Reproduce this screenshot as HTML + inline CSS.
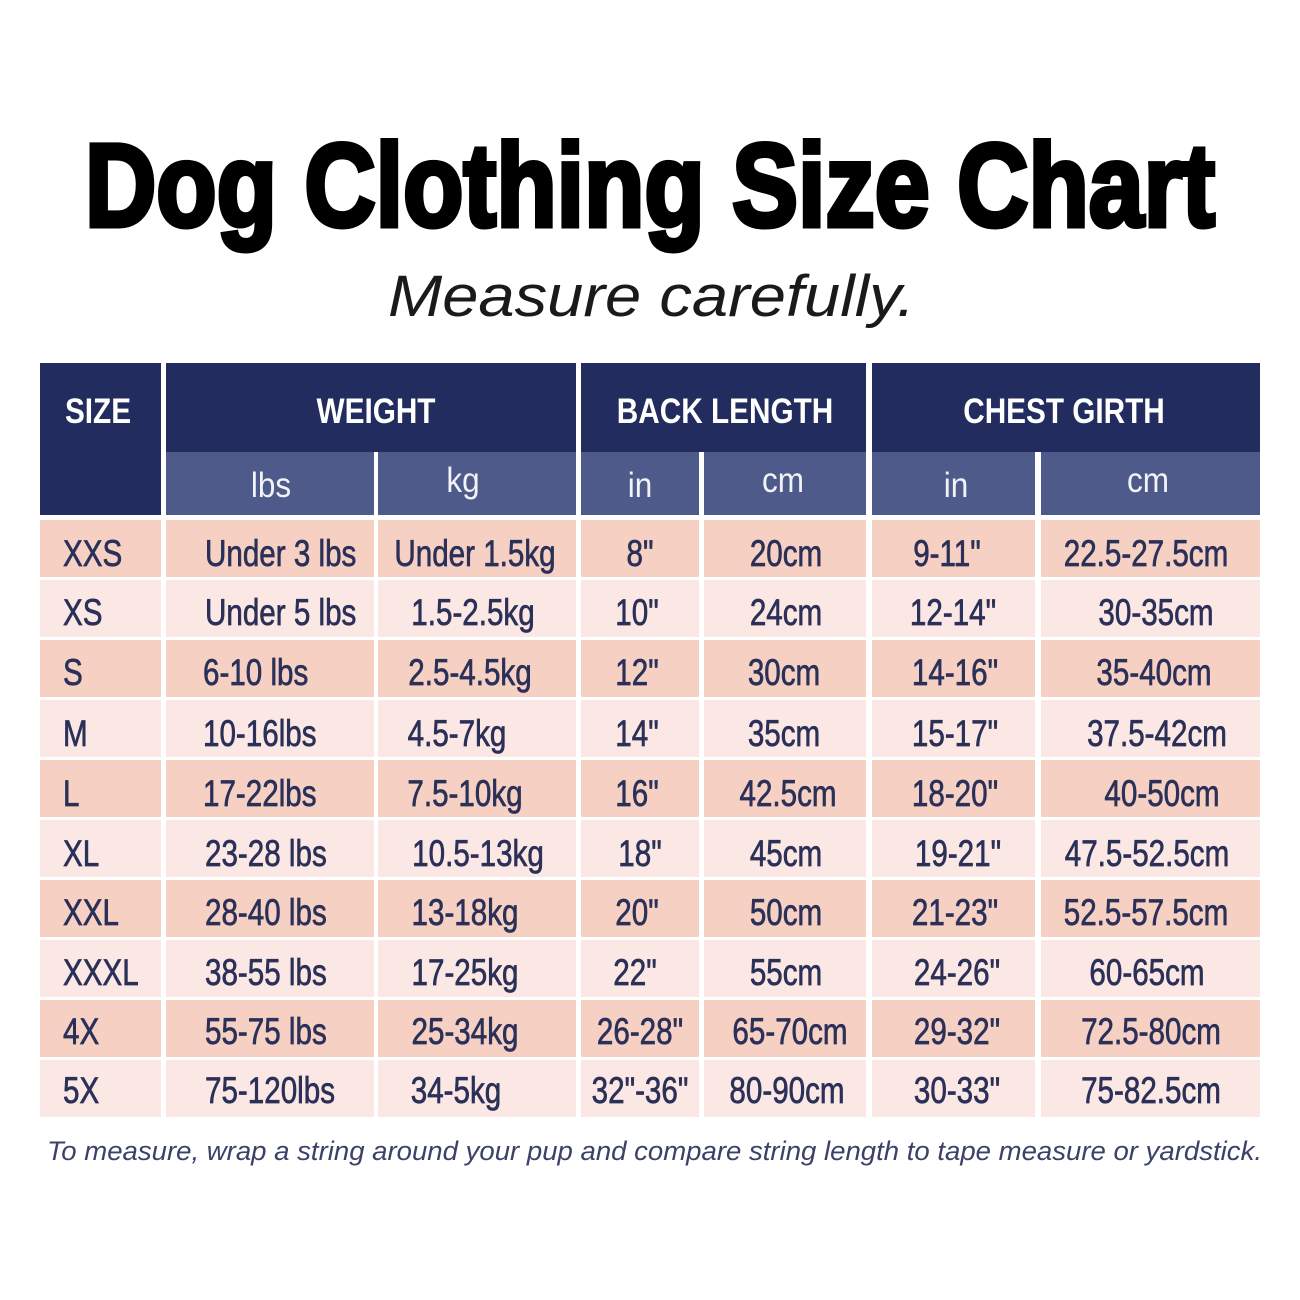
<!DOCTYPE html>
<html><head><meta charset="utf-8"><style>
html,body{margin:0;padding:0;background:#fff;width:1300px;height:1300px;overflow:hidden}
svg{display:block}
.t{font-family:"Liberation Sans",Arial,sans-serif;font-size:37px;fill:#2b3058;stroke:#2b3058;stroke-width:0.7}
.h{font-family:"Liberation Sans",Arial,sans-serif;font-weight:bold;font-size:35px;fill:#fff}
.s{font-family:"Liberation Sans",Arial,sans-serif;font-size:35px;fill:#f2f3f8}
</style></head><body>
<svg width="1300" height="1300" viewBox="0 0 1300 1300" xmlns="http://www.w3.org/2000/svg">
<text x="650" y="226" text-anchor="middle" textLength="1130" lengthAdjust="spacingAndGlyphs" font-family="Liberation Sans, Arial, sans-serif" font-weight="bold" font-size="118" fill="#000" stroke="#000" stroke-width="5">Dog Clothing Size Chart</text>
<text x="388" y="316" textLength="527" lengthAdjust="spacingAndGlyphs" font-family="Liberation Sans, Arial, sans-serif" font-style="italic" font-size="58" fill="#1a1a1a">Measure carefully.</text>

<rect x="40" y="363" width="121" height="152" fill="#232c5e"/>
<rect x="166" y="363" width="410" height="89" fill="#232c5e"/>
<rect x="581" y="363" width="285" height="89" fill="#232c5e"/>
<rect x="872" y="363" width="388" height="89" fill="#232c5e"/>
<rect x="166" y="452" width="208" height="63" fill="#4e5a8a"/>
<rect x="378" y="452" width="198" height="63" fill="#4e5a8a"/>
<rect x="581" y="452" width="118" height="63" fill="#4e5a8a"/>
<rect x="704" y="452" width="162" height="63" fill="#4e5a8a"/>
<rect x="872" y="452" width="163" height="63" fill="#4e5a8a"/>
<rect x="1041" y="452" width="219" height="63" fill="#4e5a8a"/>
<text class="h" transform="translate(98,423) scale(.85,1)" text-anchor="middle">SIZE</text>
<text class="h" transform="translate(376,423) scale(.85,1)" text-anchor="middle">WEIGHT</text>
<text class="h" transform="translate(725,423) scale(.85,1)" text-anchor="middle">BACK LENGTH</text>
<text class="h" transform="translate(1064,423) scale(.85,1)" text-anchor="middle">CHEST GIRTH</text>
<text class="s" transform="translate(271,497) scale(.9,1)" text-anchor="middle">lbs</text>
<text class="s" transform="translate(463,492) scale(.9,1)" text-anchor="middle">kg</text>
<text class="s" transform="translate(640,497) scale(.9,1)" text-anchor="middle">in</text>
<text class="s" transform="translate(783,492) scale(.9,1)" text-anchor="middle">cm</text>
<text class="s" transform="translate(956,497) scale(.9,1)" text-anchor="middle">in</text>
<text class="s" transform="translate(1148,492) scale(.9,1)" text-anchor="middle">cm</text>

<g fill="#f5d0c3">
<rect x="40" y="520" width="121" height="57"/><rect x="166" y="520" width="208" height="57"/><rect x="378" y="520" width="198" height="57"/><rect x="581" y="520" width="118" height="57"/><rect x="704" y="520" width="162" height="57"/><rect x="872" y="520" width="163" height="57"/><rect x="1041" y="520" width="219" height="57"/>
<rect x="40" y="640" width="121" height="57"/><rect x="166" y="640" width="208" height="57"/><rect x="378" y="640" width="198" height="57"/><rect x="581" y="640" width="118" height="57"/><rect x="704" y="640" width="162" height="57"/><rect x="872" y="640" width="163" height="57"/><rect x="1041" y="640" width="219" height="57"/>
<rect x="40" y="760" width="121" height="57"/><rect x="166" y="760" width="208" height="57"/><rect x="378" y="760" width="198" height="57"/><rect x="581" y="760" width="118" height="57"/><rect x="704" y="760" width="162" height="57"/><rect x="872" y="760" width="163" height="57"/><rect x="1041" y="760" width="219" height="57"/>
<rect x="40" y="880" width="121" height="57"/><rect x="166" y="880" width="208" height="57"/><rect x="378" y="880" width="198" height="57"/><rect x="581" y="880" width="118" height="57"/><rect x="704" y="880" width="162" height="57"/><rect x="872" y="880" width="163" height="57"/><rect x="1041" y="880" width="219" height="57"/>
<rect x="40" y="1000" width="121" height="57"/><rect x="166" y="1000" width="208" height="57"/><rect x="378" y="1000" width="198" height="57"/><rect x="581" y="1000" width="118" height="57"/><rect x="704" y="1000" width="162" height="57"/><rect x="872" y="1000" width="163" height="57"/><rect x="1041" y="1000" width="219" height="57"/>
</g>
<g fill="#fbe7e3">
<rect x="40" y="580" width="121" height="57"/><rect x="166" y="580" width="208" height="57"/><rect x="378" y="580" width="198" height="57"/><rect x="581" y="580" width="118" height="57"/><rect x="704" y="580" width="162" height="57"/><rect x="872" y="580" width="163" height="57"/><rect x="1041" y="580" width="219" height="57"/>
<rect x="40" y="700" width="121" height="57"/><rect x="166" y="700" width="208" height="57"/><rect x="378" y="700" width="198" height="57"/><rect x="581" y="700" width="118" height="57"/><rect x="704" y="700" width="162" height="57"/><rect x="872" y="700" width="163" height="57"/><rect x="1041" y="700" width="219" height="57"/>
<rect x="40" y="820" width="121" height="57"/><rect x="166" y="820" width="208" height="57"/><rect x="378" y="820" width="198" height="57"/><rect x="581" y="820" width="118" height="57"/><rect x="704" y="820" width="162" height="57"/><rect x="872" y="820" width="163" height="57"/><rect x="1041" y="820" width="219" height="57"/>
<rect x="40" y="940" width="121" height="57"/><rect x="166" y="940" width="208" height="57"/><rect x="378" y="940" width="198" height="57"/><rect x="581" y="940" width="118" height="57"/><rect x="704" y="940" width="162" height="57"/><rect x="872" y="940" width="163" height="57"/><rect x="1041" y="940" width="219" height="57"/>
<rect x="40" y="1060" width="121" height="57"/><rect x="166" y="1060" width="208" height="57"/><rect x="378" y="1060" width="198" height="57"/><rect x="581" y="1060" width="118" height="57"/><rect x="704" y="1060" width="162" height="57"/><rect x="872" y="1060" width="163" height="57"/><rect x="1041" y="1060" width="219" height="57"/>
</g>

<g class="t">
<text transform="translate(63,566) scale(.8,1)">XXS</text>
<text transform="translate(205,566) scale(.8,1)">Under 3 lbs</text>
<text transform="translate(475,566) scale(.8,1)" text-anchor="middle">Under 1.5kg</text>
<text transform="translate(640,566) scale(.8,1)" text-anchor="middle">8"</text>
<text transform="translate(786,566) scale(.8,1)" text-anchor="middle">20cm</text>
<text transform="translate(947,566) scale(.8,1)" text-anchor="middle">9-11"</text>
<text transform="translate(1146,566) scale(.8,1)" text-anchor="middle">22.5-27.5cm</text>
<text transform="translate(63,625) scale(.8,1)">XS</text>
<text transform="translate(205,625) scale(.8,1)">Under 5 lbs</text>
<text transform="translate(473,625) scale(.8,1)" text-anchor="middle">1.5-2.5kg</text>
<text transform="translate(637,625) scale(.8,1)" text-anchor="middle">10"</text>
<text transform="translate(786,625) scale(.8,1)" text-anchor="middle">24cm</text>
<text transform="translate(953,625) scale(.8,1)" text-anchor="middle">12-14"</text>
<text transform="translate(1156,625) scale(.8,1)" text-anchor="middle">30-35cm</text>
<text transform="translate(63,685) scale(.8,1)">S</text>
<text transform="translate(203,685) scale(.8,1)">6-10 lbs</text>
<text transform="translate(470,685) scale(.8,1)" text-anchor="middle">2.5-4.5kg</text>
<text transform="translate(637,685) scale(.8,1)" text-anchor="middle">12"</text>
<text transform="translate(784,685) scale(.8,1)" text-anchor="middle">30cm</text>
<text transform="translate(955,685) scale(.8,1)" text-anchor="middle">14-16"</text>
<text transform="translate(1154,685) scale(.8,1)" text-anchor="middle">35-40cm</text>
<text transform="translate(63,746) scale(.8,1)">M</text>
<text transform="translate(203,746) scale(.8,1)">10-16lbs</text>
<text transform="translate(457,746) scale(.8,1)" text-anchor="middle">4.5-7kg</text>
<text transform="translate(637,746) scale(.8,1)" text-anchor="middle">14"</text>
<text transform="translate(784,746) scale(.8,1)" text-anchor="middle">35cm</text>
<text transform="translate(955,746) scale(.8,1)" text-anchor="middle">15-17"</text>
<text transform="translate(1157,746) scale(.8,1)" text-anchor="middle">37.5-42cm</text>
<text transform="translate(63,806) scale(.8,1)">L</text>
<text transform="translate(203,806) scale(.8,1)">17-22lbs</text>
<text transform="translate(465,806) scale(.8,1)" text-anchor="middle">7.5-10kg</text>
<text transform="translate(637,806) scale(.8,1)" text-anchor="middle">16"</text>
<text transform="translate(788,806) scale(.8,1)" text-anchor="middle">42.5cm</text>
<text transform="translate(955,806) scale(.8,1)" text-anchor="middle">18-20"</text>
<text transform="translate(1162,806) scale(.8,1)" text-anchor="middle">40-50cm</text>
<text transform="translate(63,866) scale(.8,1)">XL</text>
<text transform="translate(205,866) scale(.8,1)">23-28 lbs</text>
<text transform="translate(478,866) scale(.8,1)" text-anchor="middle">10.5-13kg</text>
<text transform="translate(640,866) scale(.8,1)" text-anchor="middle">18"</text>
<text transform="translate(786,866) scale(.8,1)" text-anchor="middle">45cm</text>
<text transform="translate(958,866) scale(.8,1)" text-anchor="middle">19-21"</text>
<text transform="translate(1147,866) scale(.8,1)" text-anchor="middle">47.5-52.5cm</text>
<text transform="translate(63,925) scale(.8,1)">XXL</text>
<text transform="translate(205,925) scale(.8,1)">28-40 lbs</text>
<text transform="translate(465,925) scale(.8,1)" text-anchor="middle">13-18kg</text>
<text transform="translate(637,925) scale(.8,1)" text-anchor="middle">20"</text>
<text transform="translate(786,925) scale(.8,1)" text-anchor="middle">50cm</text>
<text transform="translate(955,925) scale(.8,1)" text-anchor="middle">21-23"</text>
<text transform="translate(1146,925) scale(.8,1)" text-anchor="middle">52.5-57.5cm</text>
<text transform="translate(63,985) scale(.8,1)">XXXL</text>
<text transform="translate(205,985) scale(.8,1)">38-55 lbs</text>
<text transform="translate(465,985) scale(.8,1)" text-anchor="middle">17-25kg</text>
<text transform="translate(635,985) scale(.8,1)" text-anchor="middle">22"</text>
<text transform="translate(786,985) scale(.8,1)" text-anchor="middle">55cm</text>
<text transform="translate(957,985) scale(.8,1)" text-anchor="middle">24-26"</text>
<text transform="translate(1147,985) scale(.8,1)" text-anchor="middle">60-65cm</text>
<text transform="translate(63,1044) scale(.8,1)">4X</text>
<text transform="translate(205,1044) scale(.8,1)">55-75 lbs</text>
<text transform="translate(465,1044) scale(.8,1)" text-anchor="middle">25-34kg</text>
<text transform="translate(640,1044) scale(.8,1)" text-anchor="middle">26-28"</text>
<text transform="translate(790,1044) scale(.8,1)" text-anchor="middle">65-70cm</text>
<text transform="translate(957,1044) scale(.8,1)" text-anchor="middle">29-32"</text>
<text transform="translate(1151,1044) scale(.8,1)" text-anchor="middle">72.5-80cm</text>
<text transform="translate(63,1103) scale(.8,1)">5X</text>
<text transform="translate(205,1103) scale(.8,1)">75-120lbs</text>
<text transform="translate(456,1103) scale(.8,1)" text-anchor="middle">34-5kg</text>
<text transform="translate(640,1103) scale(.8,1)" text-anchor="middle">32"-36"</text>
<text transform="translate(787,1103) scale(.8,1)" text-anchor="middle">80-90cm</text>
<text transform="translate(957,1103) scale(.8,1)" text-anchor="middle">30-33"</text>
<text transform="translate(1151,1103) scale(.8,1)" text-anchor="middle">75-82.5cm</text>
</g>

<text x="47" y="1160" textLength="1215" lengthAdjust="spacingAndGlyphs" font-family="Liberation Sans, Arial, sans-serif" font-style="italic" font-size="27" fill="#3b4168">To measure, wrap a string around your pup and  compare string length to tape measure or yardstick.</text>
</svg>
</body></html>
